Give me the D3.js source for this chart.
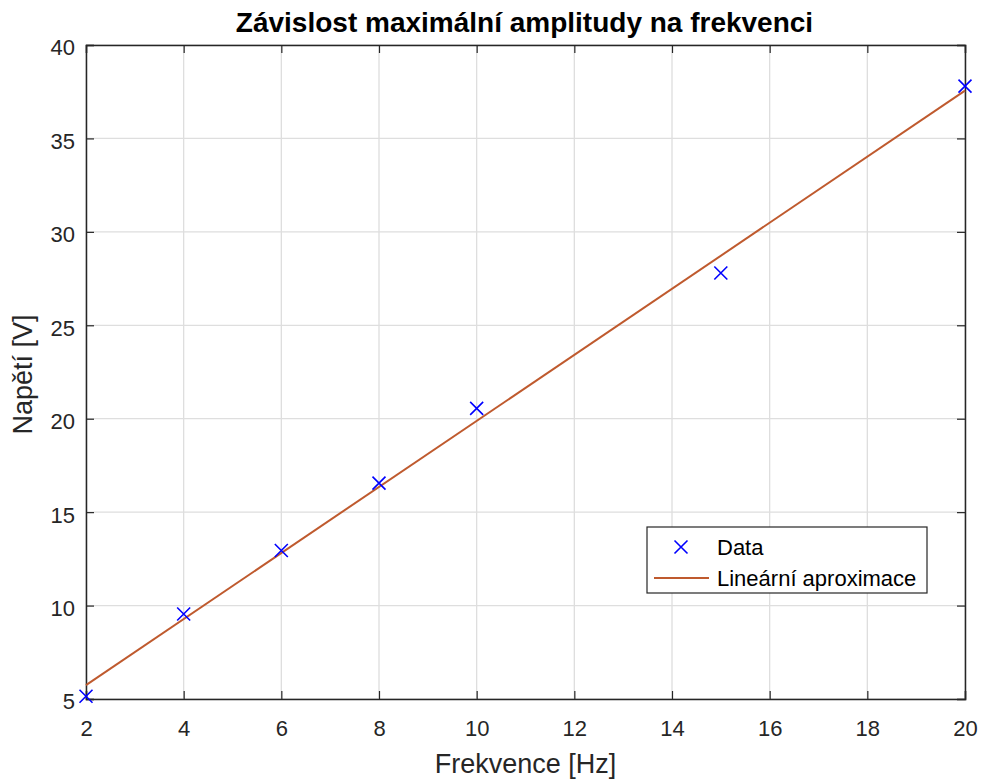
<!DOCTYPE html>
<html>
<head>
<meta charset="utf-8">
<script src="https://cdn.jsdelivr.net/npm/d3@7"></script>
<style>
  body { margin: 0; background: #fff; }
  svg { display: block; font-family: "Liberation Sans", Arial, sans-serif; }
</style>
</head>
<body>
<svg id="chart" width="982" height="780"></svg>
<script>
// Measured frequency / peak voltage pairs
const frequency = [2, 4, 6, 8, 10, 15, 20];
const voltage = [5.15, 9.55, 12.95, 16.55, 20.55, 27.8, 37.8];

const xTicks = [2, 4, 6, 8, 10, 12, 14, 16, 18, 20];
const yTicks = [5, 10, 15, 20, 25, 30, 35, 40];

const titleText = "Závislost maximální amplitudy na frekvenci";
const xLabel = "Frekvence [Hz]";
const yLabel = "Napětí [V]";
const legendLabels = ["Data", "Lineární aproximace"];

// Least-squares line through the measurements
const mx = d3.mean(frequency), my = d3.mean(voltage);
const sxy = d3.sum(frequency, (xv, i) => (xv - mx) * (voltage[i] - my));
const sxx = d3.sum(frequency, xv => (xv - mx) * (xv - mx));
const slope = sxy / sxx;
const intercept = my - slope * mx;
const fitX = [2, 20];

const svg = d3.select("#chart");
const W = 982, H = 780;
const margin = { left: 86, top: 45, right: W - 965, bottom: H - 699 };
const x = d3.scaleLinear().domain([2, 20]).range([margin.left, W - margin.right]);
const y = d3.scaleLinear().domain([5, 40]).range([H - margin.bottom, margin.top]);

const axisColor = "#262626";
const gridColor = "#dedede";

// grid
const grid = svg.append("g");
grid.selectAll("line.gx").data(xTicks).join("line").attr("class", "gx")
  .attr("x1", d => x(d)).attr("x2", d => x(d))
  .attr("y1", y(5)).attr("y2", y(40))
  .attr("stroke", gridColor).attr("stroke-width", 1.3);
grid.selectAll("line.gy").data(yTicks).join("line").attr("class", "gy")
  .attr("y1", d => y(d)).attr("y2", d => y(d))
  .attr("x1", x(2)).attr("x2", x(20))
  .attr("stroke", gridColor).attr("stroke-width", 1.3);

// axes with inward ticks on all sides
const tickLen = 8;
const fontSize = 22;
const axBottom = svg.append("g").attr("transform", `translate(0,${y(5)})`)
  .call(d3.axisBottom(x).tickValues(xTicks).tickSize(-tickLen));
const axTop = svg.append("g").attr("transform", `translate(0,${y(40)})`)
  .call(d3.axisTop(x).tickValues(xTicks).tickSize(-tickLen).tickFormat(""));
const axLeft = svg.append("g").attr("transform", `translate(${x(2)},0)`)
  .call(d3.axisLeft(y).tickValues(yTicks).tickSize(-tickLen));
const axRight = svg.append("g").attr("transform", `translate(${x(20)},0)`)
  .call(d3.axisRight(y).tickValues(yTicks).tickSize(-tickLen).tickFormat(""));

[axBottom, axTop, axLeft, axRight].forEach(g => {
  g.select(".domain").attr("stroke", axisColor).attr("stroke-width", 1.5);
  g.selectAll(".tick line").attr("stroke", axisColor).attr("stroke-width", 1.2);
  g.selectAll(".tick text").attr("fill", axisColor)
    .style("font-size", fontSize + "px")
    .style("font-family", "Liberation Sans, Arial, sans-serif");
});
axBottom.selectAll(".tick text").attr("y", 36.5).attr("dy", null);
axLeft.selectAll(".tick text").attr("x", -11).attr("dy", "0.45em");

// fit line
const fitColor = "#bf5a2e";
svg.append("path")
  .datum(fitX)
  .attr("d", d3.line().x(d => x(d)).y(d => y(intercept + slope * d)))
  .attr("fill", "none").attr("stroke", fitColor).attr("stroke-width", 2);

// data markers
const ms = 6.5;
const markerColor = "#0000ff";
function cross(sel, cx, cy) {
  sel.append("path")
    .attr("d", `M${cx - ms},${cy - ms}L${cx + ms},${cy + ms}M${cx - ms},${cy + ms}L${cx + ms},${cy - ms}`)
    .attr("stroke", markerColor).attr("stroke-width", 1.6).attr("fill", "none");
}
const marks = svg.append("g");
frequency.forEach((f, i) => cross(marks, x(f), y(voltage[i])));

// title and axis labels
svg.append("text").attr("x", 524.5).attr("y", 32).attr("text-anchor", "middle")
  .attr("font-weight", "bold").attr("font-size", 28)
  .attr("fill", "#000").text(titleText);
svg.append("text").attr("x", (x(2) + x(20)) / 2).attr("y", 773).attr("text-anchor", "middle")
  .attr("font-size", 27).attr("fill", axisColor).text(xLabel);
svg.append("text").attr("transform", `translate(32,${(y(5) + y(40)) / 2 + 2.5}) rotate(-90)`)
  .attr("text-anchor", "middle").attr("font-size", 27)
  .attr("fill", axisColor).text(yLabel);

// legend
const lg = svg.append("g").attr("transform", "translate(647,527)");
lg.append("rect").attr("width", 280).attr("height", 66)
  .attr("fill", "#fff").attr("stroke", axisColor).attr("stroke-width", 1.2);
cross(lg, 34, 20);
lg.append("line").attr("x1", 7).attr("x2", 62).attr("y1", 51).attr("y2", 51)
  .attr("stroke", fitColor).attr("stroke-width", 2);
lg.selectAll("text.lab").data(legendLabels).join("text").attr("class", "lab")
  .attr("x", 70).attr("y", (d, i) => 28 + i * 31)
  .attr("font-size", 22)
  .attr("fill", "#000").text(d => d);
</script>
</body>
</html>
